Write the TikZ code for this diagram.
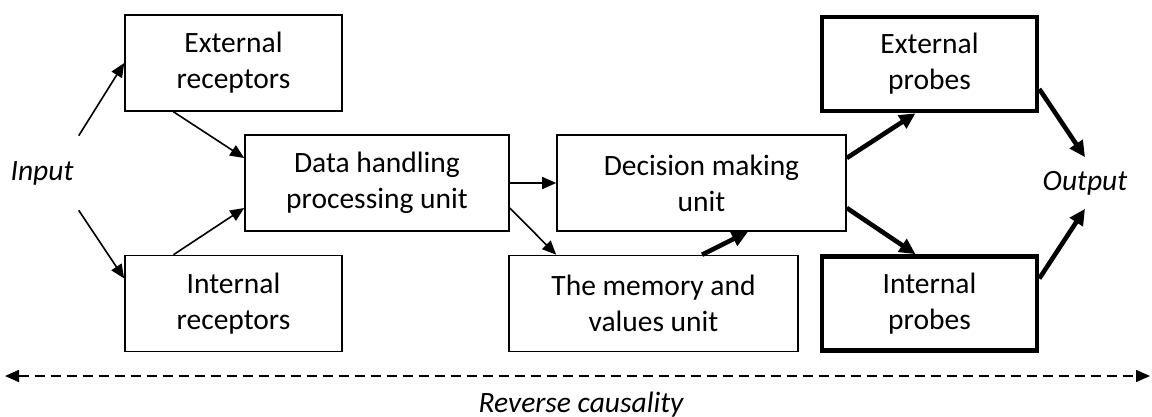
\documentclass[tikz,border=0pt]{standalone}
\usepackage{fontspec}
\setmainfont{Carlito}
\usetikzlibrary{positioning}
\usetikzlibrary{arrows.meta}

\begin{document}
\begin{tikzpicture}[x=1pt,y=-1pt,>={Triangle[length=14pt,width=12pt]},line width=1.6pt,
	every node/.style={font=\fontsize{29.5}{36}\selectfont},
	unit/.style={draw,align=center,inner sep=0pt,minimum height=96pt},
	probe/.style={unit,line width=4.6pt,minimum height=94pt},
	heavy/.style={line width=4.6pt,-{Triangle[length=16pt,width=15pt]}},
	side/.style={inner xsep=4.5pt,inner ysep=0pt,font=\fontsize{29.5}{36}\selectfont\itshape}]
				\useasboundingbox (0,0) rectangle (1152,416);

				\node[side,minimum height=73pt]	(input)	at (42,173) {Input};
				\node[side,minimum height=50pt]	(output) at (1085,183) {Output};

				\node[unit,minimum width=217pt]	(extrec) at (233.5,63) {External\\receptors};
				\node[unit,minimum width=217pt]	(intrec) at (233.5,303.5) {Internal\\receptors};
				\node[unit,minimum width=264pt]	(data) at (377,183) {Data handling\\processing unit};
				\node[unit,minimum width=289pt]	(decide) at (701.5,183) {Decision making\\unit};
				\node[unit,minimum width=289pt]	(memory) at (653.5,303.5) {The memory and\\values unit};
				\node[probe,minimum width=215pt]	(extprobe) at (929.5,64) {External\\probes};
				\node[probe,minimum width=215pt]	(intprobe) at (929.5,303.5) {Internal\\probes};

				\coordinate (rcleft) at (5,376);
				\coordinate (rcright) at (1150,376);
				\node[font=\fontsize{29.5}{36}\selectfont\itshape,anchor=base] (rclabel) at (581,412) {Reverse causality};

				\path[->]
				(input.north east) edge (extrec.west)
				(input.south east) edge ([yshift=25pt]intrec.west)

				([xshift=-60pt]extrec.south) edge ([yshift=25pt]data.west)
				([xshift=-60pt]intrec.north) edge ([yshift=-25pt]data.west)

				(data.east) edge (decide.west)
				([yshift=-25pt]data.east) edge ([xshift=48pt]memory.north west)
				;
				\path[heavy]
				([xshift=48.5pt]memory.north) edge ([xshift=46.5pt]decide.south)
				([yshift=25pt]decide.east) edge ([xshift=-14pt]extprobe.south)
				([yshift=-25pt]decide.east) edge ([xshift=-14pt]intprobe.north)
				([yshift=-25pt]extprobe.east) edge (output.north)
				([yshift=25pt]intprobe.east) edge (output.south)
				;
				\draw[<->,dash pattern=on 10pt off 6pt] (rcleft) -- (rcright);
\end{tikzpicture}
\end{document}
